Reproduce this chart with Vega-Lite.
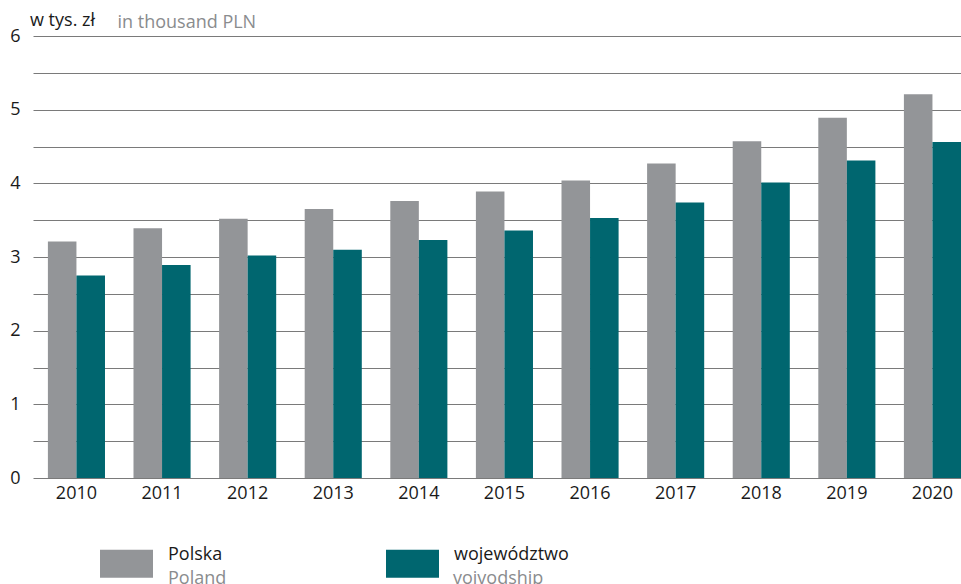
{
  "$schema": "https://vega.github.io/schema/vega-lite/v6.json",
  "autosize": {"type": "none"},
  "padding": {"left": 33, "top": 36, "right": 0, "bottom": 106},
  "width": 928,
  "height": 442,
  "background": "white",
  "config": {
    "view": {"stroke": null},
    "font": "Open Sans",
    "axis": {"labelFont": "Open Sans", "titleFont": "Open Sans"},
    "legend": {"labelFont": "Open Sans"},
    "title": {"font": "Open Sans"}
  },
  "title": {
    "text": "w tys. zł",
    "anchor": "start",
    "frame": "group",
    "fontSize": 18,
    "fontWeight": "normal",
    "color": "#1a1a1a",
    "dx": -3,
    "dy": 21
  },
  "data": {
    "values": [
      {"year": "2010", "series": "Polska", "en": "Poland", "value": 3.21},
      {"year": "2010", "series": "województwo", "en": "voivodship", "value": 2.75},
      {"year": "2011", "series": "Polska", "en": "Poland", "value": 3.39},
      {"year": "2011", "series": "województwo", "en": "voivodship", "value": 2.89},
      {"year": "2012", "series": "Polska", "en": "Poland", "value": 3.52},
      {"year": "2012", "series": "województwo", "en": "voivodship", "value": 3.02},
      {"year": "2013", "series": "Polska", "en": "Poland", "value": 3.65},
      {"year": "2013", "series": "województwo", "en": "voivodship", "value": 3.10},
      {"year": "2014", "series": "Polska", "en": "Poland", "value": 3.76},
      {"year": "2014", "series": "województwo", "en": "voivodship", "value": 3.23},
      {"year": "2015", "series": "Polska", "en": "Poland", "value": 3.89},
      {"year": "2015", "series": "województwo", "en": "voivodship", "value": 3.36},
      {"year": "2016", "series": "Polska", "en": "Poland", "value": 4.04},
      {"year": "2016", "series": "województwo", "en": "voivodship", "value": 3.53},
      {"year": "2017", "series": "Polska", "en": "Poland", "value": 4.27},
      {"year": "2017", "series": "województwo", "en": "voivodship", "value": 3.74},
      {"year": "2018", "series": "Polska", "en": "Poland", "value": 4.57},
      {"year": "2018", "series": "województwo", "en": "voivodship", "value": 4.01},
      {"year": "2019", "series": "Polska", "en": "Poland", "value": 4.89},
      {"year": "2019", "series": "województwo", "en": "voivodship", "value": 4.31},
      {"year": "2020", "series": "Polska", "en": "Poland", "value": 5.21},
      {"year": "2020", "series": "województwo", "en": "voivodship", "value": 4.56}
    ]
  },
  "mark": {"type": "bar", "strokeWidth": 0},
  "encoding": {
    "x": {
      "field": "year",
      "type": "nominal",
      "scale": {"paddingInner": 0.333, "paddingOuter": 0.087, "align": 1},
      "axis": {
        "title": null,
        "labelAngle": 0,
        "labelFontSize": 18,
        "labelColor": "#1a1a1a",
        "labelPadding": 6,
        "ticks": false,
        "domain": false,
        "grid": false
      }
    },
    "xOffset": {
      "field": "series",
      "type": "nominal",
      "scale": {"paddingInner": 0, "paddingOuter": 0}
    },
    "y": {
      "field": "value",
      "type": "quantitative",
      "scale": {"domain": [0, 6], "nice": false},
      "axis": {
        "title": "in thousand PLN",
        "titleAngle": 0,
        "titleX": 84,
        "titleY": -9,
        "titleAlign": "left",
        "titleBaseline": "alphabetic",
        "titleFontSize": 18,
        "titleFontWeight": "normal",
        "titleColor": "#8a8c8e",
        "values": [0, 0.5, 1, 1.5, 2, 2.5, 3, 3.5, 4, 4.5, 5, 5.5, 6],
        "labelExpr": "datum.value % 1 == 0 ? format(datum.value, 'd') : ''",
        "labelFontSize": 18,
        "labelColor": "#1a1a1a",
        "labelPadding": 13,
        "ticks": false,
        "domain": false,
        "grid": true,
        "gridColor": "#7a7a7a",
        "gridWidth": 1
      }
    },
    "color": {
      "field": "series",
      "type": "nominal",
      "scale": {"domain": ["Polska", "województwo"], "range": ["#939598", "#00666f"]},
      "legend": {
        "title": null,
        "orient": "none",
        "legendX": 67,
        "legendY": 501,
        "direction": "horizontal",
        "padding": 0,
        "symbolType": "M-1,-0.53H1V0.53H-1Z",
        "symbolSize": 2809,
        "symbolStrokeWidth": 0,
        "labelOffset": 15,
        "labelFontSize": 18,
        "labelColor": "#1a1a1a",
        "labelBaseline": "bottom",
        "columnPadding": 163
      }
    },
    "stroke": {
      "field": "en",
      "type": "nominal",
      "scale": {"domain": ["Poland", "voivodship"], "range": ["#939598", "#00666f"]},
      "legend": {
        "title": null,
        "orient": "none",
        "legendX": 67,
        "legendY": 525,
        "direction": "horizontal",
        "padding": 0,
        "symbolType": "M-1,-0.53H1V0.53H-1Z",
        "symbolSize": 2809,
        "symbolOpacity": 0,
        "symbolStrokeWidth": 0,
        "labelOffset": 15,
        "labelFontSize": 18,
        "labelColor": "#8a8c8e",
        "labelBaseline": "bottom",
        "columnPadding": 158
      }
    }
  }
}
